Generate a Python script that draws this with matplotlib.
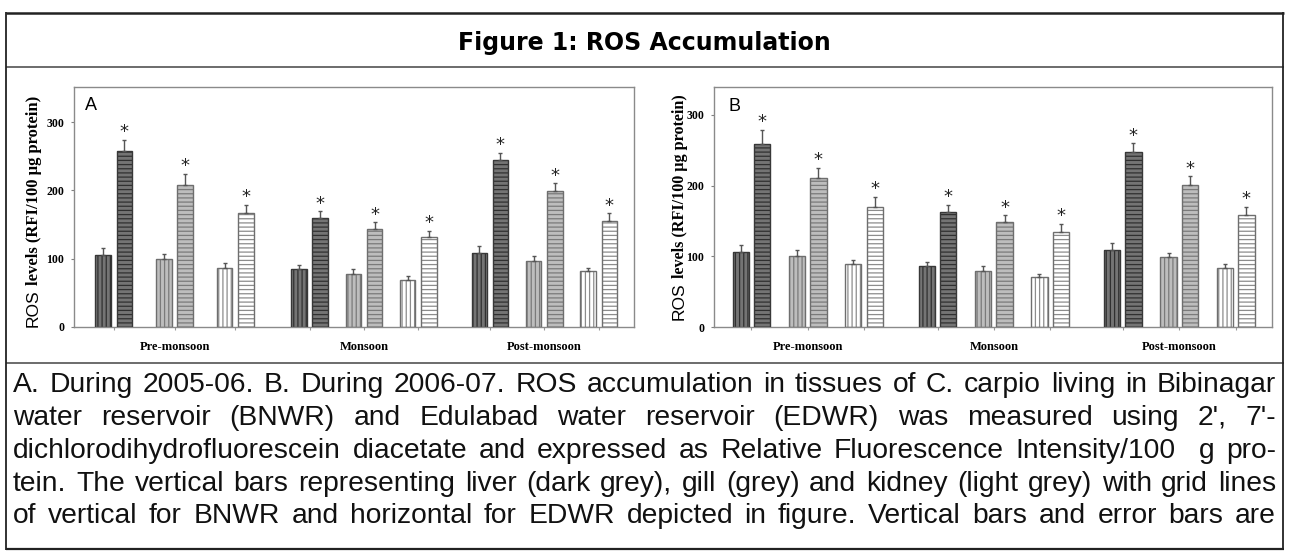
import matplotlib
matplotlib.use("Agg")
import matplotlib.pyplot as plt
from matplotlib.lines import Line2D
import numpy as np

W, H, DPI = 1289, 559, 100

# ---------------- data ----------------
seasons = ["Pre-monsoon", "Monsoon", "Post-monsoon"]
tissues = ["liver", "gill", "kidney"]
yticks = [0, 100, 200, 300]

# Panel A (2005-06): rows = seasons, columns = tissues (liver, gill, kidney)
A_bnwr = [[105, 99, 86], [84, 77, 68], [108, 96, 81]]
A_bnwr_err = [[10, 7, 7], [7, 7, 6], [10, 8, 5]]
A_edwr = [[257, 208, 167], [160, 144, 131], [245, 199, 155]]
A_edwr_err = [[17, 16, 12], [9, 9, 10], [10, 11, 11]]

# Panel B (2006-07)
B_bnwr = [[106, 101, 89], [86, 79.5, 70.5], [109.5, 99, 83]]
B_bnwr_err = [[9.5, 7.5, 5.5], [6, 6.5, 5], [9, 6.5, 6]]
B_edwr = [[259, 210, 170], [163, 148, 135], [248, 201, 158]]
B_edwr_err = [[19, 15, 14.5], [10, 10, 11], [11.5, 12, 11.5]]

title = "Figure 1: ROS Accumulation"
caption_lines = [
    "A. During 2005-06. B. During 2006-07. ROS accumulation in tissues of C. carpio living in Bibinagar",
    "water reservoir (BNWR) and Edulabad water reservoir (EDWR) was measured using 2', 7'-",
    "dichlorodihydrofluorescein diacetate and expressed as Relative Fluorescence Intensity/100  g pro-",
    "tein. The vertical bars representing liver (dark grey), gill (grey) and kidney (light grey) with grid lines",
    "of vertical for BNWR and horizontal for EDWR depicted in figure. Vertical bars and error bars are",
]

# ---------------- styles ----------------
fill = {"liver": "#747474", "gill": "#bdbdbd", "kidney": "#ffffff"}
hatchc = {"liver": "#303030", "gill": "#7a7a7a", "kidney": "#8c8c8c"}
outline = {"liver": "#383838", "gill": "#6e6e6e", "kidney": "#6e6e6e"}

plt.rcParams["hatch.linewidth"] = 0.9

fig = plt.figure(figsize=(W / DPI, H / DPI), dpi=DPI)
fig.patch.set_facecolor("white")
renderer = fig.canvas.get_renderer()


def fx(x):
    return x / W


def fy(y):
    return 1 - y / H


def panel(rect, ytop, xspan, gcenters, steps, bw, half, bnwr, bnwr_e, edwr, edwr_e, letter, letter_xy):
    l, t, r, b = rect
    ax = fig.add_axes([fx(l), fy(b), (r - l) / W, (b - t) / H])
    ax.set_xlim(0, xspan)
    ax.set_ylim(0, ytop)
    pair_centers = []
    for g in range(3):
        for p in range(3):
            pc = gcenters[g] + (p - 1) * steps[g]
            pair_centers.append(pc)
            tis = tissues[p]
            for k, (vals, errs, hat) in enumerate([(bnwr, bnwr_e, "||||"), (edwr, edwr_e, "----")]):
                xpos = pc + (-half if k == 0 else half)
                v = vals[g][p]
                e = errs[g][p]
                ax.bar(xpos, v, width=bw, color=fill[tis], edgecolor=hatchc[tis],
                       hatch=hat, linewidth=0, zorder=2)
                ax.bar(xpos, v, width=bw, fill=False, edgecolor=outline[tis],
                       linewidth=1.0, zorder=3)
                ax.errorbar(xpos, v, yerr=[[0], [e]], fmt="none", ecolor="#555555",
                            elinewidth=1.0, capsize=1.6, capthick=1.0, zorder=4)
                if k == 1:
                    ax.annotate("*", (xpos, v + e), xytext=(0, 2.0), textcoords="offset points",
                                ha="center", va="baseline", fontsize=13, color="#222222",
                                family="DejaVu Sans")
    for s in ax.spines.values():
        s.set_color("#8a8a8a")
        s.set_linewidth(1.0)
    ax.set_yticks(yticks)
    ax.set_yticklabels([str(v) for v in yticks])
    for lb in ax.get_yticklabels():
        lb.set_fontfamily("Liberation Serif")
        lb.set_fontweight("bold")
        lb.set_fontsize(8.5)
    ax.tick_params(axis="y", direction="out", length=2.5, width=0.8, color="#808080", pad=4.5)
    ax.set_xticks(pair_centers)
    ax.set_xticklabels([""] * len(pair_centers))
    ax.tick_params(axis="x", direction="out", length=2.0, width=0.8, color="#9a9a9a")
    for g, name in enumerate(seasons):
        ax.annotate(name, xy=(gcenters[g], 0), xycoords=("data", "axes fraction"),
                    xytext=(0, -14.5), textcoords="offset points", ha="center", va="center",
                    family="Liberation Serif", weight="bold", fontsize=9)
    fig.text(fx(letter_xy[0]), fy(letter_xy[1]), letter, family="Liberation Sans",
             fontsize=13, ha="left", va="baseline")
    return ax


axA = panel((74, 87, 634, 326.7), 351.5, 560, [100.5, 289.9, 470.3], [60.75, 54.4, 54.45],
            15.5, 10.6, A_bnwr, A_bnwr_err, A_edwr, A_edwr_err, "A", (85, 110))
axB = panel((714, 87, 1272, 327.3), 339.0, 558, [93.7, 279.8, 465.2], [56.3, 56.3, 56.5],
            16.2, 10.7, B_bnwr, B_bnwr_err, B_edwr, B_edwr_err, "B", (728, 111))


def ylabel(xbase, ybottom, ytop):
    t1 = fig.text(fx(xbase), fy(ybottom), "ROS", rotation=90, rotation_mode="anchor",
                  ha="left", va="baseline", family="Liberation Sans", fontsize=12.5)
    h = t1.get_window_extent(renderer).height
    y0 = ybottom - h - 4
    probe = fig.text(0, 0, "levels (RFI/100 µg protein)", family="Liberation Serif",
                     weight="bold", fontsize=10)
    wlen = probe.get_window_extent(renderer).width
    probe.remove()
    size = 10 * (y0 - ytop) / wlen
    fig.text(fx(xbase), fy(y0), "levels (RFI/100 µg protein)", rotation=90,
             rotation_mode="anchor", ha="left", va="baseline", family="Liberation Serif",
             weight="bold", fontsize=size)


ylabel(37.5, 327, 95)
ylabel(684.0, 320, 94)

# ---------------- frame ----------------
def hline(y, x0, x1, lw, c="#222222"):
    fig.add_artist(Line2D([fx(x0), fx(x1)], [fy(y), fy(y)], lw=lw, color=c,
                          solid_capstyle="butt", transform=fig.transFigure))


def vline(x, y0, y1, lw, c="#222222"):
    fig.add_artist(Line2D([fx(x), fx(x)], [fy(y0), fy(y1)], lw=lw, color=c,
                          solid_capstyle="butt", transform=fig.transFigure))


hline(12.5, 5.5, 1283.5, 1.8)
hline(67, 5.5, 1283.5, 1.1, "#444444")
hline(363, 5.5, 1283.5, 1.1, "#444444")
hline(549, 5.5, 1283.5, 1.6)
vline(6, 12, 549.5, 1.3)
vline(1283, 12, 549.5, 1.3)

fig.text(fx(644), fy(43), title, ha="center", va="center", family="DejaVu Sans",
         weight="bold", fontsize=17)

# ---------------- justified caption ----------------
x0, x1 = 13, 1276
base_kw = dict(family="Liberation Sans", color="#111111", va="baseline", ha="left")


def measure(s, size):
    if not s:
        return 0.0
    tt = fig.text(0, 0, s, fontsize=size, **base_kw)
    w = tt.get_window_extent(renderer).width
    tt.remove()
    return w


natural = max(measure(line, 10) for line in caption_lines)
cap_size = 10 * (x1 - x0) / natural * 0.985

baselines = [392, 425, 458, 491, 523]
for line, yb in zip(caption_lines, baselines):
    words = line.split(" ")
    widths = [measure(w, cap_size) for w in words]
    gap = (x1 - x0 - sum(widths)) / (len(words) - 1)
    xc = x0
    for w, wd in zip(words, widths):
        if w:
            fig.text(fx(xc), fy(yb), w, fontsize=cap_size, **base_kw)
        xc += wd + gap

fig.savefig("out.png", dpi=DPI)
